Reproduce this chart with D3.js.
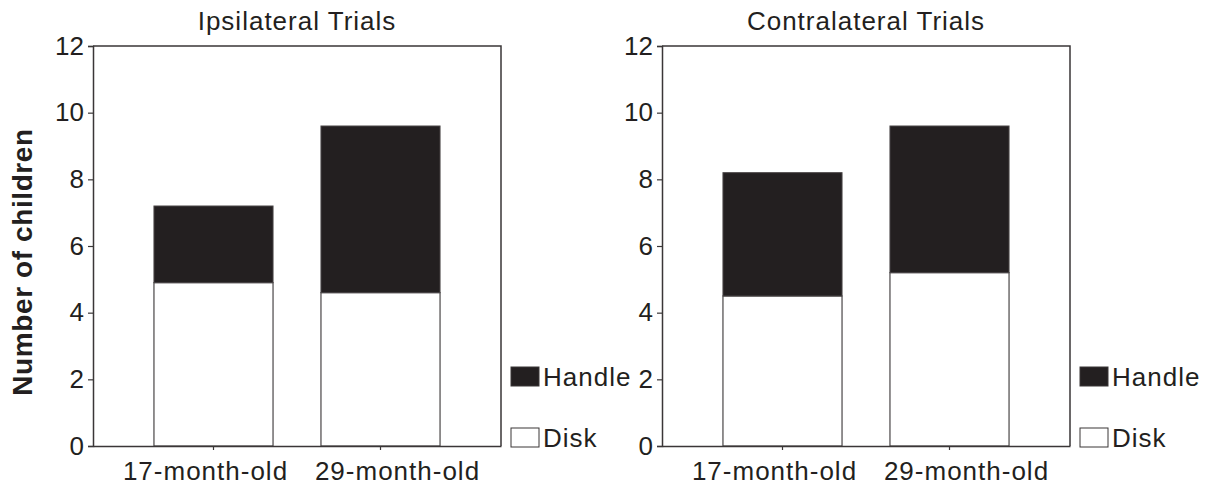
<!DOCTYPE html>
<html>
<head>
<meta charset="utf-8">
<script src="https://cdn.jsdelivr.net/npm/d3@7"></script>
<style>
html,body{margin:0;padding:0;background:#fff;}
text{font-family:"Liberation Sans",Arial,sans-serif;fill:#231f20;}
</style>
</head>
<body>
<svg id="chart" width="1209" height="487"></svg>
<script>
const categories = ["17-month-old", "29-month-old"];
const panelTitles = ["Ipsilateral Trials", "Contralateral Trials"];
const ipsiDisk = [4.9, 4.6];
const ipsiHandle = [2.3, 5.0];
const contraDisk = [4.5, 5.2];
const contraHandle = [3.7, 4.4];
const yTicks = [0, 2, 4, 6, 8, 10, 12];
const seriesNames = ["Handle", "Disk"];
const yLabel = "Number of children";

const svg = d3.select("#chart");
const ink = "#231f20";
const plotTop = 46, plotBottom = 446;
const labelShift = [-8, 17];
const panels = [
  {x0: 93, x1: 501, title: panelTitles[0], disk: ipsiDisk, handle: ipsiHandle, legX: 511},
  {x0: 662, x1: 1070, title: panelTitles[1], disk: contraDisk, handle: contraHandle, legX: 1080}
];

const y = d3.scaleLinear().domain([0, 12]).range([plotBottom, plotTop]);

panels.forEach(p => {
  const g = svg.append("g");
  const x = d3.scaleBand().domain(categories).range([p.x0, p.x1])
    .paddingInner(0.287).paddingOuter(0.365);

  g.append("path")
    .attr("d", `M${p.x0},${plotTop}H${p.x1}V${plotBottom}`)
    .attr("fill", "none").attr("stroke", "#3a3637").attr("stroke-width", 1.5);

  const stackData = categories.map((c, i) => ({cat: c, disk: p.disk[i], handle: p.handle[i]}));
  g.selectAll("rect.disk").data(stackData).join("rect")
    .attr("class", "disk")
    .attr("x", d => x(d.cat)).attr("width", x.bandwidth())
    .attr("y", d => y(d.disk)).attr("height", d => y(0) - y(d.disk))
    .attr("fill", "#fff").attr("stroke", "#4a4647").attr("stroke-width", 1.2);
  g.selectAll("rect.handle").data(stackData).join("rect")
    .attr("class", "handle")
    .attr("x", d => x(d.cat)).attr("width", x.bandwidth())
    .attr("y", d => y(d.disk + d.handle)).attr("height", d => y(d.disk) - y(d.disk + d.handle))
    .attr("fill", ink).attr("stroke", "#4a4647").attr("stroke-width", 1);

  const ya = g.append("g").attr("transform", `translate(${p.x0},0)`)
    .call(d3.axisLeft(y).tickValues(yTicks).tickSize(5).tickPadding(4));
  ya.select(".domain").attr("stroke", "#3a3637").attr("stroke-width", 1.5);
  ya.selectAll(".tick line").attr("stroke", "#3a3637").attr("stroke-width", 1.2);
  ya.selectAll(".tick text").style("font-size", "26px").attr("fill", ink)
    .style("font-family", '"Liberation Sans",Arial,sans-serif');

  const xa = g.append("g").attr("transform", `translate(0,${plotBottom})`)
    .call(d3.axisBottom(x).tickSize(4).tickPadding(12).tickSizeOuter(0));
  xa.select(".domain").attr("stroke", "#3a3637").attr("stroke-width", 1.5);
  xa.selectAll(".tick line").attr("stroke", "#3a3637").attr("stroke-width", 1.2);
  xa.selectAll(".tick text").style("font-size", "26px").attr("fill", ink)
    .style("letter-spacing", "1px")
    .attr("x", (d, i) => labelShift[i])
    .style("font-family", '"Liberation Sans",Arial,sans-serif');

  g.append("text").attr("x", (p.x0 + p.x1) / 2).attr("y", 30)
    .attr("text-anchor", "middle").style("font-size", "26px").style("letter-spacing", "1px")
    .text(p.title);

  const leg = [{name: seriesNames[0], fill: ink, y: 367}, {name: seriesNames[1], fill: "#fff", y: 428}];
  leg.forEach(l => {
    g.append("rect").attr("x", p.legX).attr("y", l.y).attr("width", 28).attr("height", 19)
      .attr("fill", l.fill).attr("stroke", "#3a3637").attr("stroke-width", 1);
    g.append("text").attr("x", p.legX + 32).attr("y", l.y + 19)
      .style("font-size", "26px").style("letter-spacing", "1px").text(l.name);
  });
});

svg.append("text")
  .attr("transform", `translate(32,262) rotate(-90)`)
  .attr("text-anchor", "middle")
  .style("font-size", "28px").style("font-weight", "bold").style("letter-spacing", "0.6px")
  .text(yLabel);
</script>
</body>
</html>
